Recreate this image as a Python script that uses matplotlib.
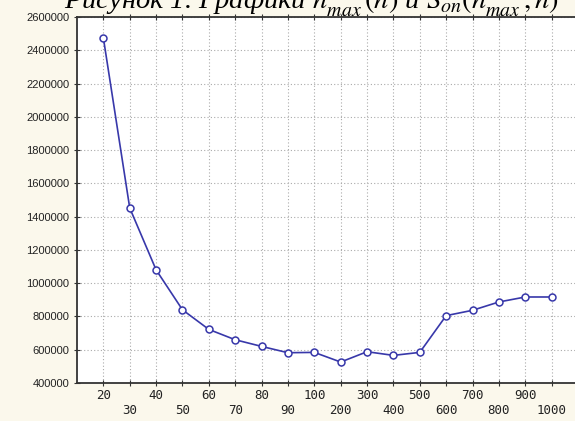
import matplotlib.pyplot as plt
import numpy as np

categories = ["20", "30", "40", "50", "60", "70", "80", "90", "100",
              "200", "300", "400", "500", "600", "700", "800", "900", "1000"]
values = [2474000, 1452000, 1080000, 840000, 722000, 660000, 620000, 582000,
          584000, 526000, 588000, 566000, 584000, 805000, 837000, 887000,
          917000, 917000]
y_ticks = [400000, 600000, 800000, 1000000, 1200000, 1400000, 1600000,
           1800000, 2000000, 2200000, 2400000, 2600000]

plt.rcParams["mathtext.fontset"] = "stix"

fig = plt.figure(figsize=(5.75, 4.21), dpi=100)
fig.patch.set_facecolor("#fbf8ec")

# axes run just past the right edge, as in the cropped original
ax = fig.add_axes([77 / 575, 38 / 421, 501 / 575, 366 / 421])
ax.set_facecolor("white")

x = np.arange(len(categories))
ax.plot(x, values, color="#3838aa", linewidth=1.2, marker="o",
        markersize=5, markerfacecolor="white", markeredgecolor="#3838aa",
        markeredgewidth=1.1, zorder=3)

ax.set_xlim(-1, len(categories))
ax.set_ylim(400000, 2600000)

ax.set_xticks(x)
ax.set_xticklabels([c if i % 2 == 0 else "\n" + c for i, c in enumerate(categories)],
                   family="DejaVu Sans Mono", fontsize=9, color="#222222")
ax.set_yticks(y_ticks)
ax.set_yticklabels([str(v) for v in y_ticks], family="Liberation Sans",
                   fontsize=8, color="#222222")

ax.grid(True, linestyle=(0, (1, 2)), color="#aaaaaa", linewidth=0.8)
ax.tick_params(axis="x", direction="inout", length=5, top=True, pad=2,
               color="#333333")
ax.tick_params(axis="y", direction="inout", length=5, pad=3, color="#333333")

for spine in ax.spines.values():
    spine.set_linewidth(1.3)
    spine.set_color("#333333")

# title is cropped at the top edge in the source image
fig.text(64 / 575, 1 - 10 / 421,
         "Рисунок 1. Графики $n^{*}_{max}\\,(n)$ и $S_{on}(n^{*}_{max}\\,,n)$",
         family="Liberation Serif", style="italic", fontsize=20.5,
         va="baseline", ha="left", color="black")

fig.savefig("out.png", dpi=100, facecolor=fig.get_facecolor())
